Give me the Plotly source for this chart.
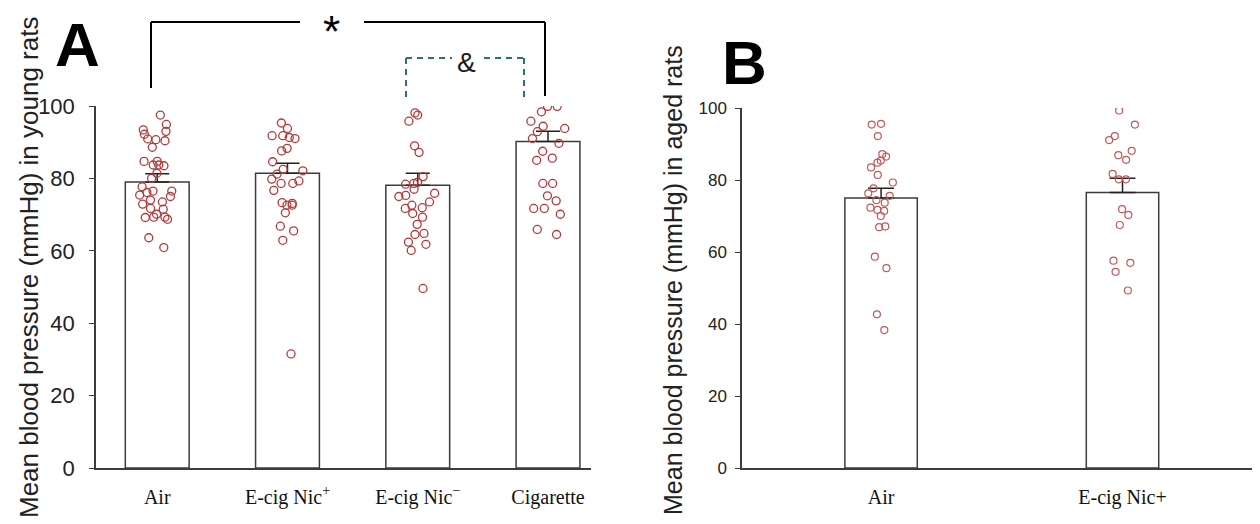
import plotly.graph_objects as go

W, H = 1260, 524
OX, OY = 8, 8  # page body offset of the figure in the browser

# ---------------- data ----------------
young_groups = ["Air", "E-cig Nic+", "E-cig Nic-", "Cigarette"]
young_ticktext = ["Air", "E-cig Nic<sup>+</sup>", "E-cig Nic<sup>\u2212</sup>", "Cigarette"]
young_means = [79.0, 81.4, 78.1, 90.2]
young_se = [2.3, 2.8, 3.3, 2.8]

young_air = [97.5, 94.9, 93.4, 93.0, 92.2, 90.7, 90.9, 90.4, 88.6, 83.7, 83.7, 84.7,
             84.7, 83.5, 81.4, 80.0, 77.7, 76.1, 76.5, 76.5, 75.4, 75.0, 74.0, 73.5,
             72.9, 71.5, 71.7, 70.1, 69.2, 69.3, 68.7, 69.3, 63.6, 60.9]
young_nicp = [95.3, 93.8, 91.0, 91.3, 91.8, 91.8, 88.3, 87.6, 84.6, 82.5, 82.1, 81.2,
              78.6, 79.3, 79.8, 78.6, 76.7, 73.3, 72.6, 72.6, 73.1, 70.5, 66.8, 65.5,
              62.9, 31.5]
young_nicm = [97.5, 98.1, 95.8, 89.0, 87.2, 80.5, 78.9, 78.4, 78.6, 77.0, 75.3, 75.9,
              75.0, 73.5, 71.7, 71.9, 70.3, 72.6, 69.3, 67.3, 64.8, 64.5, 61.8, 62.4,
              60.1, 49.6]
young_cig = [98.4, 99.9, 99.9, 95.8, 94.4, 93.8, 92.9, 91.0, 89.7, 87.5, 85.6, 85.0,
             78.6, 78.6, 75.2, 73.8, 71.7, 71.7, 70.1, 65.9, 64.5]

aged_groups = ["Air", "E-cig Nic+"]
aged_means = [75.0, 76.5]
aged_se = [2.7, 4.0]
aged_air = [95.4, 95.6, 92.2, 87.2, 85.4, 86.5, 84.8, 83.5, 81.4, 79.3, 77.7, 75.6,
            76.3, 74.4, 73.7, 71.7, 71.4, 70.0, 72.3, 66.9, 67.1, 58.7, 55.5, 42.7, 38.3]
aged_nicp = [99.3, 95.4, 91.1, 92.2, 85.6, 86.9, 88.1, 80.2, 81.7, 80.2, 70.3, 71.9,
             67.5, 57.6, 54.5, 57.0, 49.3]

y_ticks = [0, 20, 40, 60, 80, 100]

# ---------------- helpers (screen pixel -> paper fraction) ----------------
def px(x):
    return (x - OX) / W

def py(y):
    return 1 - (y - OY) / H

SANS = "Liberation Sans, Arial, sans-serif"
SERIF = "Liberation Serif, Times New Roman, serif"
BAR_LINE = "#3c3c3c"
PT_A = "#b5393a"
PT_B = "#c25a5a"

fig = go.Figure()

# Panel A bars
fig.add_trace(go.Bar(
    x=young_groups, y=young_means, width=0.49,
    marker=dict(color="white", line=dict(color=BAR_LINE, width=1.5)),
    error_y=dict(type="data", symmetric=False, array=young_se,
                 arrayminus=[0] * len(young_se), color="#222222", thickness=1.5, width=12),
    xaxis="x", yaxis="y", showlegend=False, hoverinfo="skip"))

young_points = [young_air, young_nicp, young_nicm, young_cig]
for g, vals in zip(young_groups, young_points):
    fig.add_trace(go.Box(
        x=[g] * len(vals), y=vals, boxpoints="all", jitter=1, pointpos=0, width=0.32,
        fillcolor="rgba(0,0,0,0)", line=dict(color="rgba(0,0,0,0)", width=0),
        marker=dict(symbol="circle-open", color=PT_A, size=8, line=dict(width=1.3)),
        xaxis="x", yaxis="y", showlegend=False, hoverinfo="y"))

# Panel B bars
fig.add_trace(go.Bar(
    x=aged_groups, y=aged_means, width=0.3,
    marker=dict(color="white", line=dict(color=BAR_LINE, width=1.5)),
    error_y=dict(type="data", symmetric=False, array=aged_se,
                 arrayminus=[0] * len(aged_se), color="#222222", thickness=1.5, width=13),
    xaxis="x2", yaxis="y2", showlegend=False, hoverinfo="skip"))

aged_points = [aged_air, aged_nicp]
for g, vals in zip(aged_groups, aged_points):
    fig.add_trace(go.Box(
        x=[g] * len(vals), y=vals, boxpoints="all", jitter=1, pointpos=0, width=0.12,
        fillcolor="rgba(0,0,0,0)", line=dict(color="rgba(0,0,0,0)", width=0),
        marker=dict(symbol="circle-open", color=PT_B, size=7, line=dict(width=1.2)),
        xaxis="x2", yaxis="y2", showlegend=False, hoverinfo="y"))

axis_common = dict(showgrid=False, zeroline=False, showline=True, linecolor=BAR_LINE,
                   linewidth=1.5, automargin=False)

fig.update_layout(
    width=W, height=H,
    margin=dict(l=0, r=0, t=0, b=0, pad=0, autoexpand=False),
    paper_bgcolor="white", plot_bgcolor="white", showlegend=False,
    barmode="overlay", boxmode="overlay",
    xaxis=dict(domain=[px(96), px(591)], range=[-0.47, 3.33], type="category",
               tickmode="array", tickvals=young_groups, ticktext=young_ticktext,
               ticks="outside", ticklen=10, tickcolor="rgba(0,0,0,0)",
               tickfont=dict(family=SERIF, size=20, color="#111111"),
               anchor="y", **axis_common),
    yaxis=dict(domain=[py(468), py(106)], range=[0, 100], tickvals=y_ticks,
               ticks="outside", ticklen=5, tickcolor=BAR_LINE, tickwidth=1.2,
               ticklabelstandoff=10,
               tickfont=dict(family=SANS, size=22, color="#222222"),
               anchor="x", **axis_common),
    xaxis2=dict(domain=[px(742), px(1257)], range=[-0.576, 1.557], type="category",
                ticks="outside", ticklen=10, tickcolor="rgba(0,0,0,0)",
                tickfont=dict(family=SERIF, size=20, color="#111111"),
                anchor="y2", **axis_common),
    yaxis2=dict(domain=[py(468), py(108)], range=[0, 100], tickvals=y_ticks,
                ticks="outside", ticklen=5, tickcolor=BAR_LINE, tickwidth=1.2,
                ticklabelstandoff=5,
                tickfont=dict(family=SANS, size=17, color="#222222"),
                anchor="x2", **axis_common),
)

annotations = [
    dict(text="Mean blood pressure (mmHg) in young rats", x=px(29), y=py(268), textangle=-90,
         font=dict(family=SANS, size=26, color="#222222")),
    dict(text="Mean blood pressure (mmHg) in aged rats", x=px(673), y=py(280), textangle=-90,
         font=dict(family=SANS, size=25, color="#222222")),
    dict(text="<b>A</b>", x=px(77), y=py(44), font=dict(family=SANS, size=62, color="black")),
    dict(text="<b>B</b>", x=px(744), y=py(63), font=dict(family=SANS, size=62, color="black")),
    dict(text="*", x=px(331), y=py(32), font=dict(family=SANS, size=44, color="black")),
    dict(text="&", x=px(466), y=py(62), font=dict(family=SANS, size=28, color="#1a1a1a")),
]
for a in annotations:
    a.update(xref="paper", yref="paper", showarrow=False, xanchor="center", yanchor="middle")
fig.update_layout(annotations=annotations)

solid = dict(color="black", width=2)
dash = dict(color="#2f6e7e", width=2, dash="6px,5px")
shapes = [
    dict(type="line", x0=px(151), x1=px(151), y0=py(22), y1=py(88), line=solid),
    dict(type="line", x0=px(151), x1=px(300), y0=py(22), y1=py(22), line=solid),
    dict(type="line", x0=px(364), x1=px(545), y0=py(22), y1=py(22), line=solid),
    dict(type="line", x0=px(545), x1=px(545), y0=py(22), y1=py(96), line=solid),
    dict(type="line", x0=px(406), x1=px(406), y0=py(58), y1=py(100), line=dash),
    dict(type="line", x0=px(406), x1=px(452), y0=py(58), y1=py(58), line=dash),
    dict(type="line", x0=px(484), x1=px(524), y0=py(58), y1=py(58), line=dash),
    dict(type="line", x0=px(524), x1=px(524), y0=py(58), y1=py(100), line=dash),
]
for s in shapes:
    s.update(xref="paper", yref="paper")
fig.update_layout(shapes=shapes)

fig.write_html("out.html")
